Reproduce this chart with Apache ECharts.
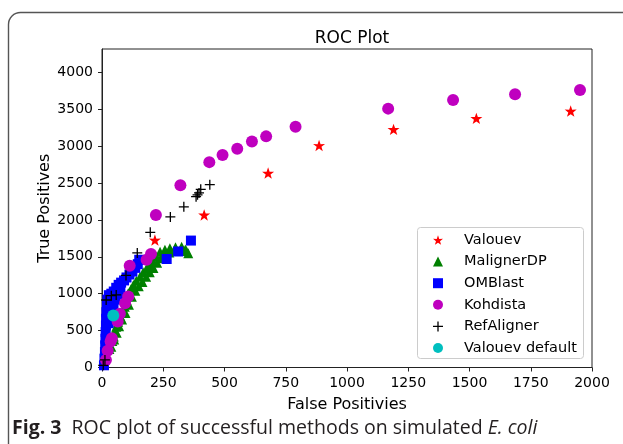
<!DOCTYPE html>
<html>
<head>
<meta charset="utf-8">
<script src="https://cdn.jsdelivr.net/npm/echarts@6/dist/echarts.min.js"></script>
<style>
html,body{margin:0;padding:0;background:#fff;}
#chart{width:623px;height:444px;}
</style>
</head>
<body>
<div id="chart"></div>
<script>
// ---- data ----
const seriesNames = ['Valouev', 'MalignerDP', 'OMBlast', 'Kohdista', 'RefAligner', 'Valouev default'];
const xTicks = [0, 250, 500, 750, 1000, 1250, 1500, 1750, 2000];
const yTicks = [0, 500, 1000, 1500, 2000, 2500, 3000, 3500, 4000];

const valouev = [[216,1728],[417,2068],[678,2635],[886,3009],[1190,3227],[1528,3376],[1913,3476]];

const malignerDP = [[30,250],[38,282],[42,360],[48,420],[52,490],[58,553],[66,620],[75,690],[84,760],[93,824],[100,915],
  [107,1005],[118,1060],[128,1118],[140,1175],[155,1230],[168,1290],[182,1343],[195,1390],[209,1434],[222,1500],
  [237,1569],[257,1595],[277,1615],[300,1628],[325,1637],[340,1600],[352,1547],
  [50,380],[60,470],[70,560],[82,650],[96,740],[110,850],[122,960],[136,1040],[150,1100],[165,1160],[180,1230],
  [195,1290],[210,1350],[225,1420],[240,1480],[255,1530],[275,1560],[300,1580],[325,1590],[345,1580]];

const omBlast = [[8,30],[10,120],[12,210],[13,300],[14,390],[15,480],[16,570],[17,660],[18,750],[20,840],[22,920],
  [28,980],[38,1000],[48,1030],[58,1080],[68,1120],[78,1150],[90,1180],[100,1220],[112,1260],[124,1300],
  [136,1350],[146,1400],[152,1460],[27,600],[33,680],[40,760],[47,850],[55,920],[65,990],[75,1060],
  [264,1470],[311,1572],[363,1720]];

const kohdista = [[16,102],[23,228],[35,351],[40,397],[64,622],[73,727],[94,872],[107,962],[113,1379],[182,1460],
  [200,1538],[220,2068],[320,2470],[438,2783],[492,2878],[552,2965],[612,3064],[670,3132],[790,3263],
  [1168,3508],[1433,3625],[1686,3702],[1951,3761]];

const refAligner = [[5,30],[12,102],[17,915],[38,973],[58,983],[98,1248],[144,1552],[197,1832],[279,2041],[334,2177],
  [384,2315],[390,2340],[396,2365],[403,2415],[440,2478]];

const valouevDefault = [[46,704]];

// ---- styling ----
const STAR = 'path://M50,0 L61.8,35.1 L97.6,34.5 L69.1,56.7 L79.4,91 L50,70.5 L20.6,91 L30.9,56.7 L2.4,34.5 L38.2,35.1 Z';
const PLUS = 'path://M4.35,0H5.65V4.35H10V5.65H5.65V10H4.35V5.65H0V4.35H4.35Z';
const FONT = 'DejaVu Sans';

const chart = echarts.init(document.getElementById('chart'), null, {renderer: 'canvas'});

function sc(name, data, symbol, size, color) {
  return {
    name: name, type: 'scatter', data: data, symbol: symbol, symbolSize: size,
    symbolKeepAspect: true,
    itemStyle: {color: color, opacity: 1},
    emphasis: {disabled: true}, animation: false
  };
}
const plain = v => String(v);

const option = {
  animation: false,
  title: {
    text: 'ROC Plot', left: 347, top: 25, textAlign: 'center',
    textStyle: {fontFamily: FONT, fontSize: 17, fontWeight: 'normal', color: '#000'}
  },
  grid: {left: 102, right: 31, top: 49, bottom: 76.5, show: true, borderColor: '#222', borderWidth: 1},
  xAxis: {
    type: 'value', min: 0, max: 2000, interval: 250,
    name: 'False Positivies', nameLocation: 'middle', nameGap: 29, nameMoveOverlap: false,
    nameTextStyle: {fontFamily: FONT, fontSize: 16, color: '#000'},
    axisLine: {show: true, lineStyle: {color: '#222', width: 1}},
    axisTick: {show: true, length: 4, lineStyle: {color: '#222'}, customValues: xTicks},
    axisLabel: {fontFamily: FONT, fontSize: 14, color: '#000', margin: 9, formatter: plain, customValues: xTicks},
    splitLine: {show: false}
  },
  yAxis: {
    type: 'value', min: 0, max: 4316, interval: 500,
    name: 'True Positives', nameLocation: 'middle', nameGap: 49, nameMoveOverlap: false,
    nameTextStyle: {fontFamily: FONT, fontSize: 16, color: '#000'},
    axisLine: {show: true, lineStyle: {color: '#222', width: 1}},
    axisTick: {show: true, length: 4, lineStyle: {color: '#222'}, customValues: yTicks},
    axisLabel: {fontFamily: FONT, fontSize: 14, color: '#000', margin: 9, formatter: plain, customValues: yTicks},
    splitLine: {show: false}
  },
  legend: {
    show: true, orient: 'vertical', left: 433, top: 232.5, padding: 0,
    itemWidth: 10, itemHeight: 10, itemGap: 6.6,
    textStyle: {fontFamily: FONT, fontSize: 14.5, color: '#000', padding: [0, 0, 0, 16], lineHeight: 13},
    data: seriesNames, selectedMode: false, z: 10
  },
  graphic: [
    {type: 'rect', shape: {x: 8.5, y: 12.5, width: 700, height: 500, r: [12, 0, 0, 0]},
     style: {fill: 'none', stroke: '#555', lineWidth: 1.4}, silent: true, z: 0},
    {type: 'rect', shape: {x: 417.5, y: 227.5, width: 166, height: 131, r: 3},
     style: {fill: 'rgba(255,255,255,0.85)', stroke: '#cccccc', lineWidth: 1}, silent: true, z: 5},
    {type: 'text', left: 12, top: 418, silent: true, z: 5,
     style: {
       text: '{b|Fig. 3}  ROC plot of successful methods on simulated {i|E. coli}',
       fontFamily: 'Open Sans', fontSize: 19.5, fill: '#231f20',
       rich: {
         b: {fontFamily: 'Open Sans', fontSize: 19.5, fontWeight: 'bold', fill: '#231f20'},
         i: {fontFamily: 'Open Sans', fontSize: 19.5, fontStyle: 'italic', fill: '#231f20'}
       }
     }}
  ],
  series: [
    sc('Valouev', valouev, STAR, 12, '#ff0000'),
    sc('MalignerDP', malignerDP, 'triangle', 10, '#008000'),
    sc('OMBlast', omBlast, 'rect', 10, '#0000ff'),
    sc('Kohdista', kohdista, 'circle', 12, '#bf00bf'),
    sc('RefAligner', refAligner, PLUS, 10, '#000000'),
    sc('Valouev default', valouevDefault, 'circle', 12, '#00bfbf')
  ]
};
chart.setOption(option);
</script>
</body>
</html>
